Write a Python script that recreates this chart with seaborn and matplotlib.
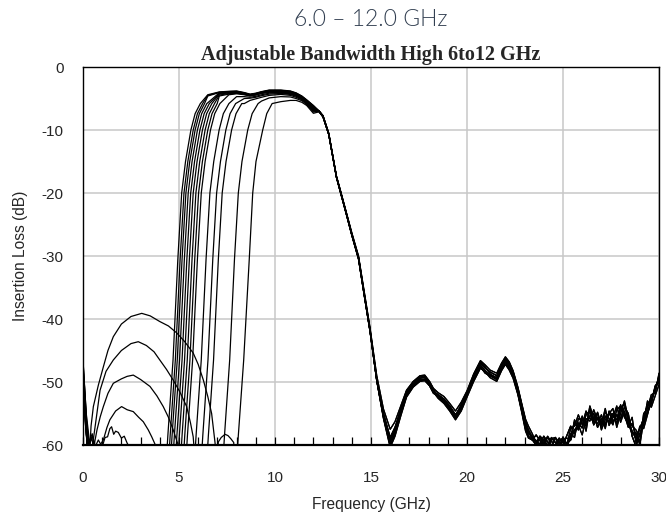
import numpy as np
import pandas as pd
import matplotlib
matplotlib.use("Agg")
import matplotlib.pyplot as plt
from matplotlib.ticker import MultipleLocator
import seaborn as sns

# ---- data ----
curve_names = [f"setting {k}" for k in range(1, 15)]

# levels (dB) at which each lower skirt is sampled, and frequency (GHz) per curve
edge_levels_db = [-65, -58.5, -46.5, -30.5, -20, -15, -10, -7.4, -5.8]
edge_freqs_ghz = [
    [4.29, 4.42, 4.69, 4.94, 5.14, 5.34, 5.62, 5.84, 6.11],
    [4.41, 4.54, 4.81, 5.06, 5.26, 5.46, 5.74, 5.96, 6.23],
    [4.51, 4.64, 4.91, 5.16, 5.36, 5.56, 5.84, 6.06, 6.33],
    [4.63, 4.76, 5.03, 5.28, 5.48, 5.68, 5.96, 6.18, 6.45],
    [4.76, 4.89, 5.16, 5.41, 5.61, 5.81, 6.09, 6.31, 6.58],
    [4.89, 5.02, 5.29, 5.54, 5.74, 5.94, 6.22, 6.44, 6.71],
    [5.03, 5.16, 5.43, 5.68, 5.88, 6.08, 6.36, 6.58, 6.85],
    [5.17, 5.30, 5.57, 5.82, 6.02, 6.22, 6.50, 6.72, 6.99],
    [5.31, 5.44, 5.71, 5.96, 6.16, 6.36, 6.64, 6.86, 7.13],
    [5.76, 5.89, 6.16, 6.41, 6.61, 6.81, 7.09, 7.31, 7.60],
    [6.11, 6.24, 6.51, 6.76, 6.96, 7.16, 7.44, 7.66, 7.95],
    [6.40, 6.53, 6.80, 7.05, 7.25, 7.45, 7.74, 7.97, 8.27],
    [7.24, 7.37, 7.64, 7.89, 8.09, 8.28, 8.58, 8.81, 9.12],
    [7.95, 8.09, 8.37, 8.66, 8.84, 9.01, 9.36, 9.57, 9.85],
]

# passband (GHz / dB per curve)
pass_freq_ghz = [6.5, 7.1, 7.6, 8.0, 8.4, 8.7, 9.0, 9.3, 9.7, 10.3, 10.8, 11.1, 11.4, 11.65, 12.0]
pass_db = [
    [-4.4, -3.95, -3.85, -3.8, -4.05, -4.3, -4.15, -3.9, -3.65, -3.65, -3.8, -4.1, -4.6, -5.2, -6.1],
    [-4.5, -4.0, -3.9, -3.85, -4.1, -4.35, -4.2, -3.95, -3.7, -3.7, -3.85, -4.15, -4.65, -5.25, -6.15],
    [-4.6, -4.05, -3.95, -3.9, -4.15, -4.4, -4.25, -4.0, -3.75, -3.75, -3.9, -4.2, -4.7, -5.3, -6.2],
    [-4.7, -4.1, -4.0, -3.95, -4.2, -4.4, -4.25, -4.0, -3.8, -3.8, -3.95, -4.25, -4.75, -5.35, -6.25],
    [-4.8, -4.2, -4.05, -4.0, -4.2, -4.45, -4.3, -4.05, -3.85, -3.85, -4.0, -4.3, -4.8, -5.4, -6.3],
    [-4.95, -4.3, -4.1, -4.05, -4.25, -4.5, -4.35, -4.1, -3.9, -3.9, -4.05, -4.35, -4.85, -5.45, -6.4],
    [-5.2, -4.45, -4.2, -4.1, -4.3, -4.5, -4.35, -4.1, -3.9, -3.95, -4.1, -4.4, -4.9, -5.5, -6.5],
    [-5.6, -4.6, -4.3, -4.15, -4.35, -4.55, -4.4, -4.15, -3.95, -4.0, -4.15, -4.45, -4.95, -5.55, -6.6],
    [-6.0, -4.8, -4.4, -4.25, -4.4, -4.6, -4.45, -4.2, -4.0, -4.05, -4.2, -4.5, -5.0, -5.6, -6.7],
    [-9.0, -7.0, -5.8, -4.7, -4.7, -4.8, -4.65, -4.4, -4.15, -4.1, -4.25, -4.55, -5.05, -5.65, -6.8],
    [-9.0, -9.0, -7.0, -5.8, -5.0, -4.95, -4.8, -4.55, -4.3, -4.2, -4.35, -4.65, -5.1, -5.7, -6.9],
    [-9.0, -9.0, -9.0, -7.0, -5.8, -5.3, -5.05, -4.8, -4.5, -4.35, -4.5, -4.8, -5.2, -5.8, -7.0],
    [-9.0, -9.0, -9.0, -9.0, -9.0, -7.0, -6.0, -5.4, -4.9, -4.7, -4.75, -5.0, -5.35, -5.95, -7.15],
    [-9.0, -9.0, -9.0, -9.0, -9.0, -9.0, -9.0, -9.0, -7.0, -5.5, -5.3, -5.3, -5.6, -6.1, -7.35],
]

# lower stopband (GHz, dB) per curve
stop_freq_ghz = [
    [0.0, 0.15, 0.28, 0.4],
    [0.0, 0.14, 0.3, 0.45, 0.55, 0.65],
    [0.0, 0.15, 0.28, 0.4],
    [0.0, 0.16, 0.32, 0.5, 0.6, 0.72],
    [0.0, 0.15, 0.27, 0.4],
    [0.0, 0.15, 0.3, 0.42],
    [0.0, 0.17, 0.34, 0.48, 0.58, 0.7],
    [0.0, 0.15, 0.29, 0.4],
    [0.0, 0.16, 0.3, 0.42],
    [0.0, 0.15, 0.3, 0.6, 0.8, 1.0, 1.15, 1.28, 1.4, 1.49, 1.6, 1.7, 1.84, 2.0, 2.15, 2.3, 2.45, 2.6],
    [0.0, 0.15, 0.3, 0.6, 0.85, 1.06, 1.25, 1.4, 1.7, 2.01, 2.3, 2.62, 2.9, 3.14, 3.4, 3.58, 3.8, 3.9],
    [0.0, 0.15, 0.3, 0.55, 0.73, 0.9, 1.06, 1.3, 1.58, 2.0, 2.3, 2.62, 3.0, 3.49, 3.85, 4.18, 4.45, 4.7, 4.98, 5.1],
    [0.0, 0.15, 0.3, 0.5, 0.68, 0.89, 1.2, 1.58, 2.0, 2.5, 2.88, 3.3, 3.7, 4.0, 4.35, 4.7, 5.05, 5.4, 5.6, 5.74, 5.85],
    [0.0, 0.12, 0.25, 0.33, 0.42, 0.54, 0.8, 1.06, 1.3, 1.58, 2.0, 2.5, 3.06, 3.5, 4.0, 4.45, 4.88, 5.3,
     5.74, 6.0, 6.27, 6.5, 6.7, 6.88, 6.95, 7.05, 7.2, 7.4, 7.55, 7.7, 7.85],
]
stop_db = [
    [-46.5, -54.0, -61.0, -64.0],
    [-47.5, -55.0, -60.5, -58.8, -60.4, -63.0],
    [-48.5, -56.0, -62.0, -64.0],
    [-49.0, -55.5, -59.8, -58.6, -59.6, -63.0],
    [-50.0, -57.0, -62.0, -64.0],
    [-51.0, -57.5, -62.0, -64.0],
    [-47.0, -55.0, -59.5, -58.2, -60.2, -63.0],
    [-49.5, -56.5, -62.0, -64.0],
    [-51.5, -58.0, -62.0, -64.0],
    [-50.0, -57.5, -63.0, -60.5, -59.2, -60.3, -58.8, -58.7, -57.4, -57.1, -58.3, -57.8, -58.0, -58.9, -58.6,
     -59.7, -60.5, -64.0],
    [-49.0, -57.0, -63.0, -61.0, -60.2, -59.2, -57.2, -56.0, -54.6, -53.9, -54.4, -54.7, -55.6, -56.3, -57.6,
     -58.7, -60.2, -64.0],
    [-48.0, -56.0, -63.0, -60.5, -57.6, -55.5, -53.9, -51.8, -50.2, -49.5, -49.1, -48.9, -49.6, -50.7, -52.2,
     -53.9, -55.6, -57.6, -60.2, -64.0],
    [-47.5, -55.0, -62.0, -60.0, -56.0, -51.3, -48.3, -46.5, -45.0, -43.9, -43.6, -44.2, -45.2, -46.5, -48.0,
     -49.7, -51.6, -53.9, -56.5, -58.7, -63.0],
    [-46.5, -53.0, -60.5, -62.0, -57.0, -53.9, -50.5, -47.6, -45.0, -42.8, -40.8, -39.6, -39.1, -39.5, -40.4,
     -41.1, -42.2, -43.6, -45.4, -47.2, -49.7, -52.3, -55.0, -59.7, -63.0, -59.5, -58.8, -58.3, -58.5, -59.0,
     -59.6],
]

# upper skirt and upper stopband, shared by all settings (six traces of the bundle)
upper_freq_ghz = [12.3, 12.5, 12.8, 13.0, 13.2, 13.4, 13.7, 14.0, 14.35, 14.65, 14.95, 15.3, 15.65, 16.0,
                  16.25, 16.55, 16.85, 17.2, 17.55, 17.8, 18.05, 18.25, 18.5, 18.8, 19.1, 19.4, 19.7, 20.0,
                  20.35, 20.7, 20.95, 21.2, 21.55, 21.8, 22.0, 22.2, 22.4, 22.65, 22.85, 23.05,
                  23.2, 23.4, 23.6, 23.8, 24.0, 24.2, 24.4, 24.6, 24.8, 25.0, 25.2, 25.4, 25.6, 25.8,
                  26.0, 26.2, 26.4, 26.6, 26.8, 27.0, 27.2, 27.4, 27.6, 27.8, 28.0, 28.2, 28.4, 28.6,
                  28.8, 29.0, 29.2, 29.4, 29.6, 29.8, 30.0]
upper_db_a = [-7.0, -7.8, -10.6, -14.0, -17.4, -19.6, -23.0, -26.5, -30.2, -36.0, -41.7, -49.5, -55.0, -58.8,
              -57.2, -54.5, -51.8, -50.3, -49.4, -49.2, -50.3, -51.5, -52.0, -52.7, -53.8, -55.2, -53.8, -51.8,
              -49.2, -47.0, -47.8, -48.4, -49.0, -47.5, -46.5, -47.2, -48.6, -51.3, -53.9, -56.5,
              -57.6, -58.8, -59.5, -59.8, -58.6, -59.5, -60.2, -58.8, -59.6, -60.0, -58.5, -57.0, -58.2, -56.5,
              -57.3, -55.2, -54.6, -56.8, -55.6, -57.0, -55.4, -56.4, -55.0, -56.6, -54.2, -53.4, -56.2, -57.8,
              -59.0, -57.4, -55.8, -53.6, -52.8, -51.0, -49.4]
upper_db_b = [-7.1, -7.9, -10.7, -14.1, -17.5, -19.8, -23.2, -26.7, -30.5, -36.3, -42.0, -49.8, -55.6, -60.0,
              -58.2, -55.0, -52.2, -50.6, -49.8, -49.6, -50.0, -51.2, -52.4, -53.2, -54.3, -55.8, -54.2, -52.0,
              -49.6, -47.6, -48.6, -49.0, -49.6, -47.9, -46.9, -47.8, -49.0, -51.8, -54.5, -57.4,
              -58.6, -59.2, -58.4, -59.3, -60.2, -58.7, -59.4, -60.3, -58.9, -59.6, -60.2, -58.6, -56.4, -57.6,
              -55.8, -56.6, -55.4, -55.0, -57.2, -55.8, -56.8, -54.8, -56.4, -55.2, -55.8, -54.0, -55.0, -58.6,
              -60.2, -58.2, -56.6, -54.6, -53.4, -50.8, -50.0]
upper_db_c = [-7.0, -7.7, -10.5, -13.9, -17.3, -19.5, -22.9, -26.3, -30.0, -35.7, -41.4, -49.0, -54.3, -57.5,
              -56.3, -53.8, -51.3, -49.9, -49.0, -48.9, -49.9, -51.0, -51.7, -52.3, -53.4, -54.6, -53.2, -51.4,
              -48.7, -46.6, -47.3, -48.1, -48.6, -47.0, -46.0, -46.8, -48.2, -50.8, -53.4, -55.9,
              -57.0, -58.2, -59.6, -58.6, -59.2, -60.0, -58.8, -59.6, -60.4, -59.0, -59.8, -59.2, -57.6, -56.8,
              -58.4, -55.8, -56.2, -54.4, -56.0, -56.4, -54.8, -55.8, -56.8, -54.4, -53.8, -55.2, -57.2, -56.6,
              -58.4, -59.4, -55.0, -54.2, -52.0, -51.8, -48.6]
upper_db_d = [-7.05, -7.85, -10.65, -14.05, -17.45, -19.7, -23.1, -26.6, -30.4, -36.2, -41.9, -49.7, -55.4, -59.5,
              -57.8, -54.9, -52.0, -50.5, -49.6, -49.5, -50.6, -51.8, -52.2, -53.0, -54.0, -55.6, -53.5, -51.6,
              -49.0, -47.3, -48.2, -48.9, -49.3, -47.2, -46.7, -47.5, -48.9, -51.5, -54.2, -57.0,
              -58.0, -59.0, -60.0, -58.8, -59.8, -58.6, -60.2, -60.6, -59.4, -58.9, -60.6, -58.2, -58.8, -55.8,
              -56.0, -57.0, -53.8, -55.8, -55.0, -57.6, -56.0, -55.0, -54.2, -57.2, -55.0, -53.0, -55.8, -57.0,
              -57.6, -58.6, -56.4, -53.0, -54.0, -52.2, -50.4]
upper_db_e = [-7.0, -7.8, -10.6, -14.0, -17.4, -19.7, -23.1, -26.6, -30.3, -36.1, -41.8, -49.6, -55.2, -59.2,
              -57.6, -54.2, -51.5, -50.0, -49.2, -49.0, -50.1, -51.3, -52.3, -53.0, -54.1, -55.4, -53.9, -51.7,
              -48.9, -46.8, -47.6, -48.7, -49.4, -47.3, -46.3, -47.0, -48.4, -51.0, -53.6, -56.2,
              -58.2, -58.6, -59.4, -58.8, -59.9, -60.3, -58.9, -59.6, -60.1, -58.7, -59.9, -57.4, -57.0, -55.2,
              -56.8, -54.6, -55.8, -56.2, -54.8, -56.8, -54.2, -56.9, -55.6, -53.8, -56.4, -54.6, -57.0, -55.6,
              -59.6, -57.0, -57.4, -55.2, -52.6, -51.4, -49.0]
upper_db_f = [-7.1, -7.9, -10.7, -14.1, -17.5, -19.7, -23.1, -26.6, -30.3, -36.2, -41.9, -49.8, -55.8, -60.4,
              -58.6, -55.4, -52.4, -50.8, -49.9, -49.8, -50.6, -51.6, -52.6, -53.4, -54.6, -56.0, -54.6, -52.4,
              -49.9, -47.8, -48.4, -49.3, -49.9, -48.2, -47.2, -48.1, -49.4, -52.0, -54.8, -57.8,
              -58.9, -59.2, -60.0, -58.6, -59.4, -60.6, -59.0, -58.8, -60.4, -59.2, -58.9, -59.2, -56.0, -57.2,
              -55.4, -57.8, -54.2, -56.2, -56.6, -55.2, -57.4, -54.6, -55.4, -56.0, -53.6, -55.6, -56.6, -58.2,
              -58.0, -60.0, -56.2, -55.0, -53.2, -50.6, -49.8]
upper_traces = [upper_db_a, upper_db_b, upper_db_c, upper_db_d, upper_db_e, upper_db_f]

x_ticks = [0, 5, 10, 15, 20, 25, 30]
y_ticks = [0, -10, -20, -30, -40, -50, -60]

# ---- build long table ----
rows = []
for k, name in enumerate(curve_names):
    f_pts = list(stop_freq_ghz[k]) + list(edge_freqs_ghz[k])
    d_pts = list(stop_db[k]) + list(edge_levels_db)
    edge_end = edge_freqs_ghz[k][-1]
    for f, d in zip(pass_freq_ghz, pass_db[k]):
        if f > edge_end + 0.1:
            f_pts.append(f)
            d_pts.append(d)
    f_pts += upper_freq_ghz
    d_pts += upper_traces[k % len(upper_traces)]
    for f, d in zip(f_pts, d_pts):
        rows.append({"curve": name, "freq": f, "db": d})
df = pd.DataFrame(rows)

# ---- plot ----
sns.set_theme(style="white")
plt.rcParams["font.family"] = ["Liberation Sans", "DejaVu Sans"]
plt.rcParams["axes.unicode_minus"] = False

fig, ax = plt.subplots(figsize=(6.66, 5.14), dpi=100)
fig.subplots_adjust(left=0.1246, right=0.9895, top=0.8696, bottom=0.1342)

sns.lineplot(data=df, x="freq", y="db", units="curve", estimator=None, sort=False,
             color="black", linewidth=0.9, legend=False, ax=ax)

ax.set_xlim(0, 30)
ax.set_ylim(-60, 0)
ax.set_xticks(x_ticks)
ax.set_yticks(y_ticks)
ax.xaxis.set_minor_locator(MultipleLocator(1))
ax.grid(True, which="major", color="#c8c8c8", linewidth=1.1)
ax.set_axisbelow(True)
ax.tick_params(axis="x", which="both", direction="in", length=6, width=0.9, color="black",
               bottom=True, labelsize=11, pad=19)
ax.tick_params(axis="y", which="both", length=0, labelsize=11, pad=14)
for s in ax.spines.values():
    s.set_color("black")
    s.set_linewidth(1.0)
ax.spines["bottom"].set_linewidth(1.6)

ax.set_xlabel("Frequency (GHz)", fontsize=11.2, labelpad=8)
ax.set_ylabel("Insertion Loss (dB)", fontsize=11.2, labelpad=10)

fig.text(0.557, 0.962, "6.0 \u2013 12.0 GHz", ha="center", va="center", fontsize=16.5,
         color="#334052", family=["Lato", "DejaVu Sans"], fontweight=300)
ax.set_title("Adjustable Bandwidth High 6to12 GHz", fontsize=14.5, fontweight="bold",
             family=["Liberation Serif", "DejaVu Serif"], pad=5)

fig.savefig("out.png", dpi=100)
